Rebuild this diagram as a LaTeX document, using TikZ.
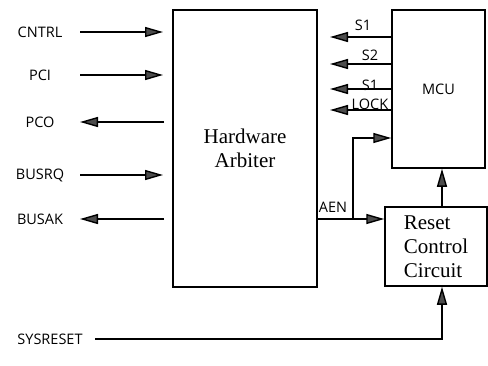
\documentclass[tikz,border=0pt]{standalone}
\usepackage{fontspec}
\setmainfont{Liberation Serif}
\newfontfamily\lblfont{Open Sans}
\usetikzlibrary{arrows.meta}
\begin{document}
\begin{tikzpicture}[x=1pt,y=-1pt,line width=1.4pt,
  sig/.style={-{Triangle[length=18pt,width=10pt,fill=black!70]}},
  lbl/.style={font=\lblfont\fontsize{14.5}{16}\selectfont,inner sep=0pt},
  blk/.style={draw,line width=1.5pt,font=\fontsize{21}{24}\selectfont,inner sep=0pt}]
  \useasboundingbox (0,0) rectangle (488,365);
  \node[blk,minimum width=144pt,minimum height=277pt,align=center] (arb) at (245,148.5) {Hardware\\Arbiter};
  \node[blk,minimum width=93pt,minimum height=158pt,font=\lblfont\fontsize{14.5}{16}\selectfont] (mcu) at (438.5,89) {MCU};
  \node[blk,minimum width=102pt,minimum height=79pt,align=left] (rst) at (436,246.5) {Reset\\Control\\Circuit};
  \foreach \n/\y in {CNTRL/32,PCI/75,BUSRQ/175} {\node[lbl] (\n) at (40,\y) {\n}; \coordinate (\n-a) at (80,\y); \coordinate (\n-b) at (163,\y); \draw[sig] (\n-a)--(\n-b);}
  \foreach \n/\y in {PCO/122,BUSAK/219} {\node[lbl] (\n) at (40,\y) {\n}; \coordinate (\n-a) at (164,\y); \coordinate (\n-b) at (80,\y); \draw[sig] (\n-a)--(\n-b);}
  \foreach \t/\x/\ly/\y [count=\i] in {S1/363/25/37,S2/370/55/64,S1/370/85/89,LOCK/370/104/110} {\node[lbl] (s\i) at (\x,\ly) {\t}; \coordinate (m\i) at (330,\y); \draw[sig] (mcu.west |- m\i)--(m\i);}
  \coordinate (aen) at (353,219); \coordinate (up) at (442,190); \coordinate (sr) at (95,339);
  \draw[sig] (arb.east |- aen)--(rst.west |- aen); \node[lbl] (aenl) at (333,207) {AEN};
  \draw[sig] (aen)|-(mcu.west |- 0,138);
  \draw[sig] (rst.north -| up)--(mcu.south -| up);
  \node[lbl] (sys) at (50,339) {SYSRESET};
  \draw[sig] (sr)-|(rst.south -| up);
\end{tikzpicture}
\end{document}
